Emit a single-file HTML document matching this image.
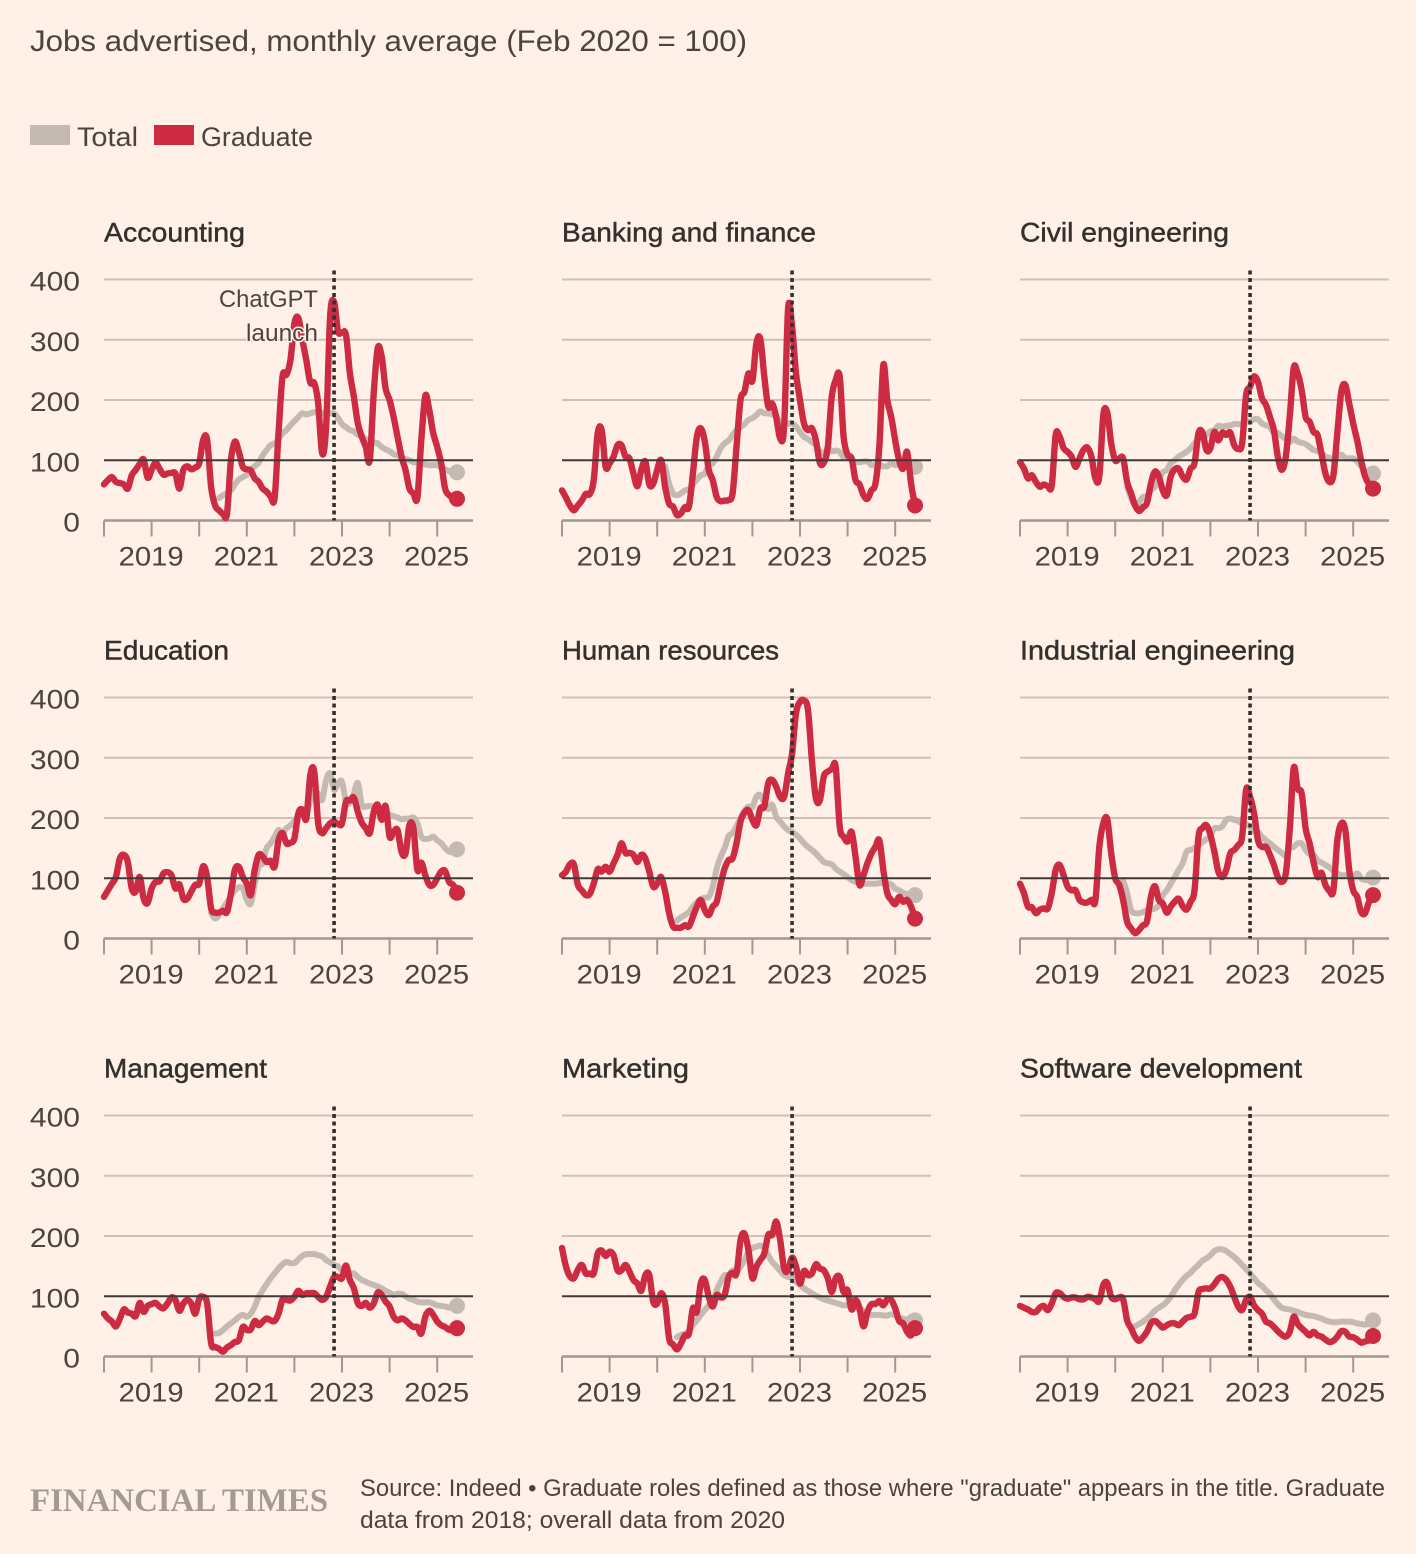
<!DOCTYPE html>
<html lang="en">
<head>
<meta charset="utf-8">
<title>Jobs advertised, monthly average</title>
<style>
html,body{margin:0;padding:0;background:#fff1e8;}
svg{display:block;}
text{font-family:"Liberation Sans",sans-serif;fill:#4a433e;}
</style>
</head>
<body>
<svg id="chart" xmlns="http://www.w3.org/2000/svg" width="1416" height="1554" viewBox="0 0 1416 1554">
  <rect x="0" y="0" width="1416" height="1554" fill="#fff1e8"/>
  <text x="30" y="51" font-size="30" textLength="717" lengthAdjust="spacingAndGlyphs">Jobs advertised, monthly average (Feb 2020 = 100)</text>
  <rect x="30" y="125" width="40" height="20" fill="#c4bab1"/>
  <text x="77" y="146" font-size="27" textLength="61" lengthAdjust="spacingAndGlyphs">Total</text>
  <rect x="154" y="125" width="40" height="20" fill="#cc2b41"/>
  <text x="201" y="146" font-size="27" textLength="112" lengthAdjust="spacingAndGlyphs">Graduate</text>
  <g id="panels"></g>
  <text x="30" y="1511" font-size="33" font-weight="bold" textLength="298" lengthAdjust="spacingAndGlyphs" style="font-family:'Liberation Serif',serif;fill:#a39b91">FINANCIAL TIMES</text>
  <text x="360" y="1496" font-size="24" textLength="1025" lengthAdjust="spacingAndGlyphs">Source: Indeed • Graduate roles defined as those where "graduate" appears in the title. Graduate</text>
  <text x="360" y="1528" font-size="24" textLength="425" lengthAdjust="spacingAndGlyphs">data from 2018; overall data from 2020</text>
</svg>
<script>
const panelTitles = ["Accounting","Banking and finance","Civil engineering","Education","Human resources","Industrial engineering","Management","Marketing","Software development"];
const panelTitleWidths = [141,254,209,125,217,275,163,127,282];
const yTicks = [0,100,200,300,400];
const xTickYears = [2018,2019,2020,2021,2022,2023,2024,2025];
const xLabelYears = [2019,2021,2023,2025];
const chatGptLaunchMonth = 58;

const gradAccounting = [60,67,72,64,62,60,53,75,84,94,101,71,84,96,86,76,78,79,78,53,84,90,85,88,95,134,134,56,25,17,11,11,100,131,114,89,85,83,70,64,53,48,40,37,145,239,242,266,327,336,300,266,229,228,194,111,156,338,363,314,312,308,244,205,161,139,122,100,211,286,272,219,200,172,139,106,84,53,45,38,134,207,183,145,122,95,53,42,38,36];
const totalAccounting = [37,42,45,50,60,68,72,76,85,90,96,108,117,125,128,135,145,150,158,165,172,178,176,178,180,178,178,180,178,178,170,160,155,150,148,142,140,135,132,130,128,122,118,115,110,108,105,102,100,97,96,95,93,92,92,92,88,85,82,80,80];

const gradBanking = [50,38,25,17,25,33,44,44,67,145,150,89,95,106,125,125,106,103,78,57,84,98,60,61,84,100,56,28,23,9,12,22,23,78,139,153,131,84,67,39,32,33,34,45,122,200,214,244,232,294,301,239,189,194,172,136,156,352,322,244,200,161,150,153,133,96,96,122,205,233,239,139,109,103,67,60,42,36,50,61,122,258,200,172,133,100,86,114,61,25];
const totalBanking = [90,61,45,42,45,50,52,60,68,75,78,92,95,106,120,128,133,142,150,155,160,167,170,175,181,178,178,176,172,165,165,161,161,156,147,139,135,130,125,115,112,120,115,116,114,105,104,102,97,97,98,98,92,92,92,90,90,95,92,95,97,96,86,89];

const gradCivil = [97,86,70,75,64,56,60,57,58,142,139,120,114,106,89,103,117,121,106,70,73,175,179,128,100,103,103,64,45,25,16,22,29,61,81,73,50,42,73,85,86,73,68,86,95,145,146,117,120,147,133,146,142,146,125,119,128,208,222,239,230,203,192,172,150,106,84,106,172,253,244,217,172,164,147,142,111,78,64,75,145,214,225,194,161,133,100,73,60,53];
const totalCivil = [56,37,25,30,39,40,50,56,70,80,84,95,100,106,110,114,120,128,135,140,142,148,150,157,156,157,158,160,160,160,165,164,168,168,161,158,155,145,145,140,135,130,136,131,129,127,122,117,115,112,106,104,100,105,109,104,103,103,98,90,82,78,78];

const gradEducation = [69,80,91,102,133,139,127,83,78,102,66,59,83,94,95,108,110,105,83,90,66,66,78,89,91,120,102,50,43,43,46,44,75,114,119,102,91,72,114,139,136,127,129,119,163,175,158,159,166,208,214,199,271,277,191,175,183,191,194,190,191,227,229,234,210,192,183,175,210,222,197,220,169,177,180,144,141,188,183,114,126,105,89,89,100,111,112,94,89,76];
const totalEducation = [42,33,39,50,60,70,80,85,83,64,58,90,120,125,150,158,169,180,175,183,188,195,205,215,205,230,245,240,230,263,274,247,258,260,227,225,241,258,222,219,220,219,215,210,205,205,203,201,198,199,199,201,191,169,165,166,169,163,158,150,144,144,148];

const gradHR = [105,111,123,123,89,80,72,74,91,115,111,119,111,125,139,158,142,142,139,127,139,133,111,86,91,102,78,42,20,18,18,22,20,36,53,64,47,39,53,61,91,116,130,133,158,194,209,213,197,188,216,219,258,263,252,235,235,274,307,374,393,395,380,296,233,229,269,277,281,285,186,169,161,177,136,89,105,125,141,152,163,114,75,64,57,69,61,64,53,33];
const totalHR = [30,35,39,44,53,60,65,68,69,86,116,136,150,170,175,186,200,212,219,218,235,238,225,215,222,202,194,186,180,177,172,166,158,152,147,141,134,127,125,123,116,111,107,102,97,94,94,91,91,91,91,92,92,92,90,83,80,76,74,72,72];

const gradIndustrial = [91,75,53,52,42,48,50,50,75,114,122,105,86,80,80,64,60,60,64,63,152,191,198,141,100,89,64,28,17,9,14,22,28,69,87,64,58,43,53,61,66,54,48,61,80,169,183,188,172,144,111,102,114,141,147,155,169,247,235,208,163,152,152,139,122,102,94,108,180,283,249,241,183,158,127,102,109,89,79,80,163,191,180,114,80,69,44,42,61,72];
const totalIndustrial = [97,75,47,42,42,44,47,48,50,55,72,80,91,102,114,125,144,147,150,155,160,165,170,183,183,186,197,199,197,195,190,190,185,178,177,169,163,158,152,147,142,138,150,152,158,158,147,140,139,130,126,122,118,112,108,105,105,103,100,108,100,97,98,101];

const gradManagement = [71,63,58,50,63,78,73,71,67,89,74,84,87,89,83,80,88,98,94,76,88,94,88,71,96,99,88,22,16,13,8,15,19,24,27,49,44,45,59,52,58,63,60,59,71,95,94,93,99,109,102,105,105,105,99,94,99,116,132,132,130,151,127,113,88,84,89,81,88,106,102,91,83,66,60,63,60,54,49,49,38,66,76,69,58,52,49,44,45,47];
const totalManagement = [38,39,44,50,55,60,66,69,66,71,83,99,110,120,130,138,146,153,157,155,155,161,167,170,170,170,168,166,160,156,152,149,143,140,138,138,132,127,124,121,119,116,113,109,106,102,104,104,100,96,94,91,90,90,90,88,85,84,83,81,83,84];

const gradMarketing = [180,149,133,130,144,152,138,138,138,171,176,167,174,168,143,143,152,141,127,121,109,135,135,91,88,105,88,30,20,12,22,35,38,80,74,122,127,99,83,102,98,102,132,139,138,193,204,177,130,149,160,171,202,202,224,193,146,143,164,149,121,142,135,138,153,146,143,130,107,130,132,107,110,78,94,80,50,74,87,87,92,85,95,94,80,59,55,41,35,47];
const totalMarketing = [32,36,38,42,52,60,69,77,85,91,110,124,135,135,143,140,149,160,174,180,182,184,180,168,157,150,142,135,132,130,124,119,113,109,105,101,98,95,93,91,89,87,85,85,82,80,80,75,72,69,69,69,68,68,70,68,64,63,60,66,60];

const gradSoftware = [84,81,78,74,74,81,84,77,88,105,105,99,96,98,98,95,95,99,98,95,92,119,122,99,95,98,95,60,47,33,26,32,41,55,59,54,48,52,55,55,52,58,64,66,71,107,112,113,113,120,129,132,127,116,99,83,77,94,99,85,77,71,58,55,49,42,36,33,41,66,54,47,41,35,41,35,33,28,24,26,33,42,41,33,32,28,23,25,27,34];
const totalSoftware = [50,54,58,63,69,76,81,85,91,99,110,119,127,134,139,146,152,159,163,168,175,178,178,175,170,165,159,152,145,138,130,122,117,110,104,95,87,81,79,78,76,74,71,69,68,67,65,63,60,58,57,57,58,58,58,57,55,54,53,55,60];

const graduateSeries = [gradAccounting,gradBanking,gradCivil,gradEducation,gradHR,gradIndustrial,gradManagement,gradMarketing,gradSoftware];
const totalSeries = [totalAccounting,totalBanking,totalCivil,totalEducation,totalHR,totalIndustrial,totalManagement,totalMarketing,totalSoftware];

const NS = "http://www.w3.org/2000/svg";
const root = document.getElementById("panels");
const PANEL_W = 369, PX_PER_YEAR = 47.6, PX_PER_100 = 60.25;
const RED = "#cc2b41", GREY = "#c4bab1";

function make(tag, parent, attrs, txt) {
  const el = document.createElementNS(NS, tag);
  for (const k in attrs) el.setAttribute(k, attrs[k]);
  if (txt !== undefined) el.textContent = txt;
  parent.appendChild(el);
  return el;
}
function slug(s){ return s.toLowerCase().replace(/\s+/g,"-"); }
function pathFor(values, first, xs, ys){
  const pts = values.map((v,i)=>[xs(first+i), ys(v)]);
  let d = "M"+pts[0][0].toFixed(1)+" "+pts[0][1].toFixed(1);
  for (let i=0;i<pts.length-1;i++){
    const p0=pts[Math.max(i-1,0)], p1=pts[i], p2=pts[i+1], p3=pts[Math.min(i+2,pts.length-1)];
    const c1x=p1[0]+(p2[0]-p0[0])/6, c1y=p1[1]+(p2[1]-p0[1])/6;
    const c2x=p2[0]-(p3[0]-p1[0])/6, c2y=p2[1]-(p3[1]-p1[1])/6;
    d+="C"+c1x.toFixed(1)+" "+c1y.toFixed(1)+" "+c2x.toFixed(1)+" "+c2y.toFixed(1)+" "+p2[0].toFixed(1)+" "+p2[1].toFixed(1);
  }
  return d;
}

panelTitles.forEach(function(title, p){
  const left = 104 + 458*(p%3);
  const base = 520.5 + 418*Math.floor(p/3);
  const xMonth = m => left + PX_PER_YEAR*(m/12);
  const xYear = y => left + PX_PER_YEAR*(y-2018);
  const yVal = v => base - v*PX_PER_100/100;
  const name = slug(title);

  const g = make("g", root, {});
  
  

  const titleEl = make("text", g, {x:left, y:base-279, "font-size":27, textLength:panelTitleWidths[p], lengthAdjust:"spacingAndGlyphs", style:"fill:#33302e;stroke:#33302e;stroke-width:.45"}, title);
  
  

  yTicks.forEach(function(t){
    if (t === 0 || t === 100) return;
    const line = make("line", g, {x1:left, x2:left+PANEL_W, y1:yVal(t), y2:yVal(t), stroke:"#cfc1b7", "stroke-width":2});
    
    
  });
  if (p%3 === 0) {
    yTicks.forEach(function(t){
      const label = String(t);
      const lab = make("text", g, {x:80, y:yVal(t)+11, "text-anchor":"end", "font-size":27, textLength:label.length*16.7, lengthAdjust:"spacingAndGlyphs"}, label);
      
      
    });
  }

  const axis = make("line", g, {x1:left, x2:left+PANEL_W, y1:base, y2:base, stroke:"#a2988f", "stroke-width":2.4});
  
  
  xTickYears.forEach(function(y){
    const tick = make("line", g, {x1:xYear(y), x2:xYear(y), y1:base, y2:base+16, stroke:"#a2988f", "stroke-width":2});
    
    
  });
  xLabelYears.forEach(function(y){
    const lab = make("text", g, {x:xYear(y)-0.5, y:base+45, "text-anchor":"middle", "font-size":27, textLength:65, lengthAdjust:"spacingAndGlyphs"}, String(y));
    
    
  });

  const totals = totalSeries[p];
  const grads = graduateSeries[p];
  const totalFirst = 90 - totals.length;

  const totalLine = make("path", g, {d:pathFor(totals,totalFirst,xMonth,yVal), fill:"none", stroke:GREY, "stroke-width":6, "stroke-linejoin":"round", "stroke-linecap":"round"});
  
  
  const totalDot = make("circle", g, {cx:xMonth(89), cy:yVal(totals[totals.length-1]), r:8, fill:GREY});
  
  

  const gradLine = make("path", g, {d:pathFor(grads,0,xMonth,yVal), fill:"none", stroke:RED, "stroke-width":6.4, "stroke-linejoin":"round", "stroke-linecap":"round"});
  
  
  const gradDot = make("circle", g, {cx:xMonth(89), cy:yVal(grads[grads.length-1]), r:8, fill:RED});
  
  

  const refLine = make("line", g, {x1:left, x2:left+PANEL_W, y1:yVal(100), y2:yVal(100), stroke:"#3f3a36", "stroke-width":2});
  
  

  const launch = make("line", g, {x1:xMonth(chatGptLaunchMonth), x2:xMonth(chatGptLaunchMonth), y1:base-250, y2:base, stroke:"#33302e", "stroke-width":3.6, "stroke-dasharray":"4 3.5"});
  
  

  if (p === 0) {
    const a1 = make("text", g, {x:318, y:307, "text-anchor":"end", "font-size":24, textLength:99, lengthAdjust:"spacingAndGlyphs"}, "ChatGPT");
    
    
    const a2 = make("text", g, {x:318, y:341, "text-anchor":"end", "font-size":24, textLength:72, lengthAdjust:"spacingAndGlyphs", stroke:"#fff1e8", "stroke-width":3, style:"paint-order:stroke"}, "launch");
    
    
  }
});
</script>
</body>
</html>
